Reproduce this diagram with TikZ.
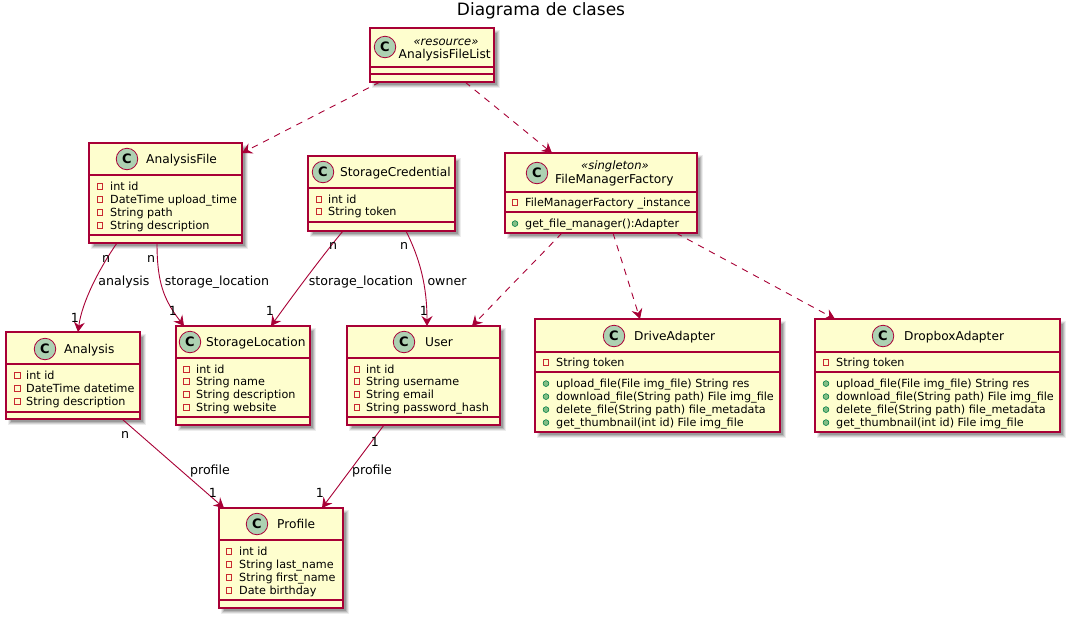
\documentclass[tikz,border=0pt]{standalone}
\usepackage{fontspec}
\setmainfont{DejaVu Sans}
\usetikzlibrary{arrows.meta,calc}
\definecolor{umlred}{HTML}{A80036}
\definecolor{umlfill}{HTML}{FEFECE}
\definecolor{umlicon}{HTML}{ADD1B2}
\definecolor{umlpriv}{HTML}{C82930}
\definecolor{umlpub}{HTML}{84BE84}
\definecolor{umlpubline}{HTML}{038048}
\newcounter{umlitem}
\tikzset{
  classbody/.style={draw=umlred,fill=umlfill,line width=1.2pt,inner sep=0pt,outer sep=0pt,anchor=north west},
  classline/.style={draw=umlred,line width=1.1pt},
  classicon/.style={circle,draw=umlred,fill=umlicon,line width=.8pt,minimum size=21.5pt,inner sep=0pt,font=\fontsize{13}{13}\selectfont\bfseries},
  classname/.style={anchor=base west,inner sep=0pt,font=\fontsize{12.2}{13}\selectfont},
  stereo/.style={anchor=base,inner sep=0pt,font=\fontsize{11.6}{12}\selectfont\itshape},
  membertext/.style={anchor=base west,inner sep=0pt,font=\fontsize{11.2}{12}\selectfont},
  privmark/.style={rectangle,draw=umlpriv,line width=.8pt,minimum size=5.6pt,inner sep=0pt},
  pubmark/.style={circle,draw=umlpubline,fill=umlpub,line width=.6pt,minimum size=5.8pt,inner sep=0pt},
  edgelabel/.style={inner sep=0pt,font=\fontsize{12.6}{13}\selectfont},
  solidedge/.style={draw=umlred,line width=.9pt,-{Stealth[length=10pt,width=11pt,inset=3.5pt,fill=umlred]}},
  dashededge/.style={solidedge,dash pattern=on 6.5pt off 6pt},
}
\newcommand{\umlbox}[7]{%
  \foreach \umlgrow/\umlop in {2/.07,1/.1,0/.13,-1/.16}{
    \fill[black,opacity=\umlop] ({#2+4-\umlgrow},{#3+4-\umlgrow}) rectangle ({#4+4+\umlgrow},{#5+4+\umlgrow});
  }
  \pgfmathsetlengthmacro{\umlw}{(#4)-(#2)}
  \pgfmathsetlengthmacro{\umlh}{(#5)-(#3)}
  \node[classbody,minimum width=\umlw,minimum height=\umlh] (#1) at (#2,#3) {};
  \draw[classline] (#2,#6) -- (#4,#6);
  \draw[classline] (#2,#7) -- (#4,#7);
}
\newcommand{\umlicon}[3]{\node[classicon] (#1icon) at (#2,#3) {C};}
\newcommand{\umlname}[4]{\node[classname] (#1name) at (#2,#3+4.3) {#4};}
\newcommand{\umlstereo}[4]{\node[stereo] (#1stereo) at (#2,#3+4) {«#4»};}
\newcommand{\umlpriv}[4]{%
  \stepcounter{umlitem}%
  \node[privmark] (mk\theumlitem) at (#1,#2+0.6) {};
  \node[membertext] (tx\theumlitem) at (#3,#2+4) {#4};}
\newcommand{\umlpub}[4]{%
  \stepcounter{umlitem}%
  \node[pubmark] (mk\theumlitem) at (#1,#2+0.6) {};
  \node[membertext] (tx\theumlitem) at (#3,#2+4) {#4};}
\begin{document}
\begin{tikzpicture}[x=1pt,y=-1pt]
\useasboundingbox (0,0) rectangle (1071,619);
\fill[white] (0,0) rectangle (1071,619);
\node[inner sep=0pt,font=\fontsize{17}{18}\selectfont] (title) at (541,10.5) {Diagrama de clases};

% AnalysisFileList
\umlbox{AFL}{370}{28}{494}{82}{67}{74}
\umlicon{AFL}{385}{47}
\umlstereo{AFL}{446}{41}{resource}
\umlname{AFL}{398.5}{54}{AnalysisFileList}

% FileManagerFactory
\umlbox{FMF}{505}{153}{697}{233}{192}{212}
\umlicon{FMF}{537}{173}
\umlstereo{FMF}{615}{165}{singleton}
\umlname{FMF}{555}{179}{FileManagerFactory}
\umlpriv{515}{202}{525}{FileManagerFactory \_instance}
\umlpub{515}{223}{525}{get\_file\_manager():Adapter}

% StorageCredential
\umlbox{SC}{308}{156}{455}{231}{188}{222}
\umlicon{SC}{323}{172}
\umlname{SC}{340}{172}{StorageCredential}
\umlpriv{319}{199}{328}{int id}
\umlpriv{319}{211}{328}{String token}

% AnalysisFile
\umlbox{AF}{89}{143}{242}{243}{175}{235}
\umlicon{AF}{127}{159}
\umlname{AF}{146}{159}{AnalysisFile}
\umlpriv{100}{186}{110}{int id}
\umlpriv{100}{199}{110}{DateTime upload\_time}
\umlpriv{100}{212}{110}{String path}
\umlpriv{100}{225}{110}{String description}

% Analysis
\umlbox{AN}{6}{332}{140}{419}{364}{412}
\umlicon{AN}{45}{349}
\umlname{AN}{64}{349}{Analysis}
\umlpriv{17.5}{375}{26}{int id}
\umlpriv{17.5}{388}{26}{DateTime datetime}
\umlpriv{17.5}{401}{26}{String description}

% StorageLocation
\umlbox{SL}{176}{326}{310}{425}{358}{417}
\umlicon{SL}{190}{342}
\umlname{SL}{206}{342}{StorageLocation}
\umlpriv{186.5}{369}{196}{int id}
\umlpriv{186.5}{381}{196}{String name}
\umlpriv{186.5}{394}{196}{String description}
\umlpriv{186.5}{407}{196}{String website}

% User
\umlbox{US}{347}{326}{500}{425}{358}{417}
\umlicon{US}{404}{342}
\umlname{US}{425}{342}{User}
\umlpriv{357}{369}{366}{int id}
\umlpriv{357}{381}{366}{String username}
\umlpriv{357}{394}{366}{String email}
\umlpriv{357}{407}{366}{String password\_hash}

% Profile
\umlbox{PR}{219}{508}{343}{608}{540}{600}
\umlicon{PR}{257}{524}
\umlname{PR}{277}{524}{Profile}
\umlpriv{229}{551}{239}{int id}
\umlpriv{229}{564}{239}{String last\_name}
\umlpriv{229}{577}{239}{String first\_name}
\umlpriv{229}{590}{239}{Date birthday}

% DriveAdapter
\umlbox{DA}{535}{319}{780}{432}{352}{372}
\umlicon{DA}{614}{336}
\umlname{DA}{634}{336}{DriveAdapter}
\umlpriv{546}{362}{556}{String token}
\umlpub{546}{383}{556}{upload\_file(File img\_file) String res}
\umlpub{546}{396}{556}{download\_file(String path) File img\_file}
\umlpub{546}{409}{556}{delete\_file(String path) file\_metadata}
\umlpub{546}{422}{556}{get\_thumbnail(int id) File img\_file}

% DropboxAdapter
\umlbox{DB}{815}{319}{1060}{432}{352}{372}
\umlicon{DB}{883}{336}
\umlname{DB}{904}{336}{DropboxAdapter}
\umlpriv{826}{362}{836}{String token}
\umlpub{826}{383}{836}{upload\_file(File img\_file) String res}
\umlpub{826}{396}{836}{download\_file(String path) File img\_file}
\umlpub{826}{409}{836}{delete\_file(String path) file\_metadata}
\umlpub{826}{422}{836}{get\_thumbnail(int id) File img\_file}

% Connectors
\draw[dashededge] ([xshift=10pt]AFL.south west) -- ([yshift=-10pt]AF.north east);
\draw[dashededge] ([xshift=95pt]AFL.south west) -- ([xshift=47pt]FMF.north west);
\draw[solidedge] ([xshift=28pt]AF.south west) .. controls +(-18,26) and +(4,-30) .. ([xshift=72pt]AN.north west);
\draw[solidedge] ([xshift=68pt]AF.south west) .. controls +(0,40) and +(-20,-26) .. ([xshift=8pt]SL.north west);
\draw[solidedge] ([xshift=35pt]SC.south west) .. controls +(-20,24) and +(20,-28) .. ([xshift=95pt]SL.north west);
\draw[solidedge] ([xshift=98pt]SC.south west) .. controls +(14,28) and +(0,-40) .. ([xshift=80pt]US.north west);
\draw[dashededge] ([xshift=57pt]FMF.south west) -- ([xshift=125pt]US.north west);
\draw[dashededge] ([xshift=108pt]FMF.south west) -- ([xshift=105pt]DA.north west);
\draw[dashededge] ([xshift=171pt]FMF.south west) -- ([xshift=20pt]DB.north west);
\draw[solidedge] ([xshift=116pt]AN.south west) -- ([xshift=5pt]PR.north west);
\draw[solidedge] ([xshift=37pt]US.south west) -- ([xshift=103pt]PR.north west);

% Connector labels
\node[edgelabel] (l1) at (106,259) {n};
\node[edgelabel] (l2) at (124,282) {analysis};
\node[edgelabel] (l3) at (75,318) {1};
\node[edgelabel] (l4) at (151,259) {n};
\node[edgelabel] (l5) at (217,282) {storage\_location};
\node[edgelabel] (l6) at (173,311) {1};
\node[edgelabel] (l7) at (333,246) {n};
\node[edgelabel] (l8) at (361,282) {storage\_location};
\node[edgelabel] (l9) at (270,311) {1};
\node[edgelabel] (l10) at (404,246) {n};
\node[edgelabel] (l11) at (447,282) {owner};
\node[edgelabel] (l12) at (424,311) {1};
\node[edgelabel] (l13) at (125,435) {n};
\node[edgelabel] (l14) at (210,471) {profile};
\node[edgelabel] (l15) at (213,493) {1};
\node[edgelabel] (l16) at (375,442) {1};
\node[edgelabel] (l17) at (372,471) {profile};
\node[edgelabel] (l18) at (320,493) {1};
\end{tikzpicture}
\end{document}
